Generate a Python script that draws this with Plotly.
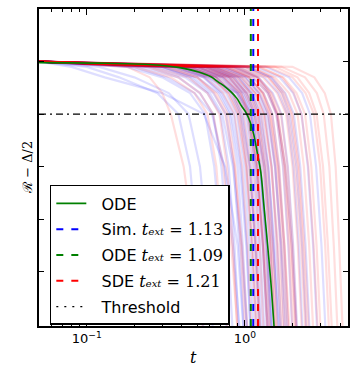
import plotly.graph_objects as go

# y levels that every trajectory passes through (first one at t = 0.05)
TRAJ_LEVELS = [0.0, -0.1, -0.3, -0.6, -1.0, -2.0, -3.5, -5.5]
T_START = 0.05

# crossing times of each level (after the start) for the simulated runs
SIM_RUNS = [
    [0.08, 0.13, 0.30, 0.55, 0.75, 0.90, 1.00],
    [0.10, 0.16, 0.28, 0.38, 0.45, 0.50, 0.56],
    [0.12, 0.20, 0.33, 0.44, 0.52, 0.58, 0.64],
    [0.18, 0.30, 0.45, 0.56, 0.64, 0.71, 0.78],
    [0.20, 0.32, 0.48, 0.62, 0.74, 0.84, 0.95],
    [0.22, 0.38, 0.52, 0.63, 0.71, 0.78, 0.85],
    [0.25, 0.42, 0.58, 0.70, 0.79, 0.86, 0.93],
    [0.28, 0.47, 0.63, 0.76, 0.85, 0.92, 1.00],
    [0.30, 0.50, 0.68, 0.80, 0.90, 0.97, 1.05],
    [0.30, 0.45, 0.60, 0.72, 0.84, 0.95, 1.05],
    [0.33, 0.55, 0.72, 0.85, 0.95, 1.03, 1.10],
    [0.35, 0.58, 0.76, 0.89, 0.99, 1.07, 1.15],
    [0.36, 0.55, 0.70, 0.82, 0.93, 1.02, 1.10],
    [0.38, 0.62, 0.80, 0.93, 1.03, 1.11, 1.20],
    [0.40, 0.65, 0.84, 0.97, 1.08, 1.16, 1.25],
    [0.40, 0.58, 0.90, 1.10, 1.25, 1.38, 1.50],
    [0.42, 0.68, 0.88, 1.01, 1.12, 1.21, 1.30],
    [0.44, 0.66, 0.82, 0.95, 1.07, 1.17, 1.27],
    [0.45, 0.72, 0.92, 1.05, 1.16, 1.25, 1.35],
    [0.47, 0.75, 0.95, 1.09, 1.20, 1.30, 1.40],
    [0.50, 0.78, 0.99, 1.13, 1.25, 1.35, 1.45],
    [0.50, 0.72, 0.90, 1.04, 1.18, 1.30, 1.42],
    [0.52, 0.82, 1.03, 1.18, 1.30, 1.40, 1.51],
    [0.55, 0.86, 1.07, 1.22, 1.35, 1.45, 1.57],
    [0.56, 0.80, 0.97, 1.10, 1.24, 1.37, 1.50],
    [0.58, 0.90, 1.12, 1.28, 1.41, 1.52, 1.64],
    [0.60, 0.85, 1.02, 1.15, 1.33, 1.50, 1.68],
    [0.62, 0.95, 1.18, 1.34, 1.48, 1.60, 1.72],
    [0.64, 0.92, 1.10, 1.24, 1.40, 1.54, 1.70],
    [0.66, 1.00, 1.24, 1.41, 1.56, 1.68, 1.80],
    [0.70, 1.06, 1.31, 1.49, 1.64, 1.77, 1.90],
    [0.72, 1.02, 1.22, 1.38, 1.55, 1.70, 1.86],
    [0.75, 1.13, 1.39, 1.58, 1.74, 1.88, 2.02],
    [0.82, 1.22, 1.50, 1.70, 1.87, 2.02, 2.17],
    [0.85, 1.20, 1.42, 1.60, 1.80, 1.98, 2.15],
    [0.90, 1.33, 1.63, 1.85, 2.03, 2.19, 2.35],
    [1.00, 1.47, 1.80, 2.04, 2.24, 2.42, 2.60],
    [1.05, 1.45, 1.72, 1.92, 2.12, 2.30, 2.48],
    [1.15, 1.66, 2.02, 2.28, 2.50, 2.70, 2.90],
    [1.35, 1.90, 2.30, 2.58, 2.82, 3.05, 3.28],
]

# same for the SDE runs
SDE_RUNS = [
    [0.18, 0.25, 0.30, 0.34, 0.41, 0.48, 0.56],
    [0.20, 0.34, 0.48, 0.58, 0.66, 0.72, 0.79],
    [0.24, 0.38, 0.52, 0.63, 0.73, 0.82, 0.92],
    [0.26, 0.44, 0.58, 0.69, 0.77, 0.84, 0.91],
    [0.30, 0.50, 0.66, 0.78, 0.87, 0.94, 1.02],
    [0.32, 0.50, 0.64, 0.75, 0.86, 0.96, 1.06],
    [0.34, 0.56, 0.73, 0.86, 0.96, 1.04, 1.12],
    [0.37, 0.61, 0.79, 0.92, 1.02, 1.10, 1.19],
    [0.40, 0.65, 0.84, 0.98, 1.09, 1.18, 1.27],
    [0.42, 0.62, 0.78, 0.90, 1.02, 1.12, 1.22],
    [0.43, 0.69, 0.89, 1.03, 1.14, 1.24, 1.33],
    [0.45, 0.66, 0.83, 0.94, 1.06, 1.16, 1.26],
    [0.46, 0.73, 0.94, 1.08, 1.20, 1.30, 1.40],
    [0.49, 0.78, 0.99, 1.14, 1.26, 1.37, 1.47],
    [0.50, 0.74, 0.92, 1.06, 1.20, 1.32, 1.45],
    [0.52, 0.82, 1.04, 1.20, 1.33, 1.44, 1.55],
    [0.55, 0.80, 0.95, 1.05, 1.18, 1.30, 1.42],
    [0.56, 0.87, 1.10, 1.26, 1.40, 1.51, 1.63],
    [0.58, 0.84, 1.02, 1.16, 1.31, 1.45, 1.58],
    [0.60, 0.93, 1.16, 1.33, 1.47, 1.59, 1.71],
    [0.62, 0.90, 1.08, 1.21, 1.36, 1.48, 1.60],
    [0.64, 0.99, 1.23, 1.40, 1.55, 1.68, 1.80],
    [0.66, 0.96, 1.16, 1.31, 1.47, 1.62, 1.77],
    [0.69, 1.05, 1.31, 1.49, 1.65, 1.78, 1.91],
    [0.74, 1.12, 1.39, 1.58, 1.75, 1.89, 2.03],
    [0.75, 1.06, 1.28, 1.44, 1.62, 1.78, 1.95],
    [0.78, 1.08, 1.30, 1.45, 1.60, 1.73, 1.86],
    [0.80, 1.20, 1.48, 1.69, 1.86, 2.01, 2.16],
    [0.84, 1.18, 1.42, 1.60, 1.80, 1.97, 2.14],
    [0.87, 1.30, 1.60, 1.82, 2.00, 2.16, 2.32],
    [0.90, 1.22, 1.45, 1.62, 1.79, 1.94, 2.10],
    [0.95, 1.41, 1.73, 1.96, 2.16, 2.33, 2.50],
    [1.00, 1.40, 1.68, 1.88, 2.08, 2.26, 2.45],
    [1.05, 1.55, 1.90, 2.15, 2.36, 2.55, 2.74],
    [1.10, 1.50, 1.78, 2.00, 2.20, 2.38, 2.58],
    [1.20, 1.75, 2.12, 2.40, 2.63, 2.84, 3.05],
    [1.25, 1.72, 2.04, 2.28, 2.52, 2.72, 2.93],
    [1.40, 2.00, 2.42, 2.73, 2.99, 3.22, 3.45],
    [1.55, 2.15, 2.55, 2.84, 3.12, 3.35, 3.60],
    [1.70, 2.40, 2.85, 3.15, 3.42, 3.65, 3.90],
    [2.00, 2.75, 3.20, 3.50, 3.75, 3.95, 4.20],
]

# deterministic ODE solution
ODE_T = [0.05, 0.12, 0.26, 0.38, 0.51, 0.61, 0.68, 0.75, 0.82, 0.89, 0.95,
         1.02, 1.08, 1.14, 1.20, 1.26, 1.32, 1.39, 1.46, 1.55]
ODE_Y = [-0.02, -0.03, -0.06, -0.11, -0.20, -0.29, -0.39, -0.48, -0.58, -0.70,
         -0.84, -0.98, -1.15, -1.40, -1.75, -2.10, -2.75, -3.47, -4.20, -5.30]

T_EXT_SIM = 1.13
T_EXT_ODE = 1.09
T_EXT_SDE = 1.21
THRESHOLD = -1.0

X_TICKS = [0.1, 1]
X_TICKTEXT = ["10<sup>\u22121</sup>", "10<sup>0</sup>"]
X_MINOR = [0.06, 0.07, 0.08, 0.09, 0.2, 0.3, 0.4, 0.5, 0.6, 0.7, 0.8, 0.9, 2, 3, 4]
Y_TICKS = [-4, -3, -2, -1, 0]

MATH = "font-family:'DejaVu Serif'"
PAD = "\u00a0\u00a0"


def ext_label(name, val):
    # unicode subscripts keep the legend rows evenly spaced
    return (f"{PAD}{name} <span style=\"{MATH}\"><i>t\u2091\u2093\u209c</i>"
            f" = {val:.2f}</span>")


fig = go.Figure()

# stochastic trajectories, one trace each so overlaps darken
for runs, col in [(SIM_RUNS, "rgba(0,0,255,0.13)"), (SDE_RUNS, "rgba(255,0,0,0.13)")]:
    for run in runs:
        fig.add_trace(go.Scatter(
            x=[T_START] + run, y=TRAJ_LEVELS, mode="lines",
            line=dict(color=col, width=2.2), showlegend=False, hoverinfo="skip"))

fig.add_trace(go.Scatter(x=ODE_T, y=ODE_Y, mode="lines", name=PAD + "ODE",
                         legendgroup="ode",
                         line=dict(color="green", width=1.6, shape="spline")))

# vertical extinction times and threshold
for val, col, name in [(T_EXT_SIM, "blue", "Sim."), (T_EXT_ODE, "green", "ODE"),
                       (T_EXT_SDE, "red", "SDE")]:
    fig.add_vline(x=val, line=dict(color=col, width=2, dash="7px,8px"))
    fig.add_trace(go.Scatter(x=[None], y=[None], mode="lines", name=ext_label(name, val),
                             legendgroup=name + col,
                             line=dict(color=col, width=2, dash="7px,8px")))
fig.add_hline(y=THRESHOLD, line=dict(color="black", width=1.3, dash="7px,4px,2px,4px"))
fig.add_trace(go.Scatter(x=[None], y=[None], mode="lines", name=PAD + "Threshold",
                         legendgroup="thr",
                         line=dict(color="black", width=1.3, dash="2px,6px")))

fig.add_annotation(text="<i>t</i>", xref="paper", yref="paper", x=0.5, y=-0.1,
                   yanchor="middle", showarrow=False,
                   font=dict(family="DejaVu Serif", size=16))
fig.add_annotation(text="\u211b \u2212 \u0394/2", xref="paper", yref="paper",
                   x=-0.068, y=0.5, textangle=-90, showarrow=False,
                   font=dict(family="DejaVu Serif", size=13))

fig.update_layout(
    width=357, height=376,
    margin=dict(l=39, r=9, t=9, b=50, autoexpand=False),
    plot_bgcolor="white", paper_bgcolor="white",
    font=dict(family="DejaVu Sans", color="black", size=13),
    legend=dict(x=0.035, y=0.445, xanchor="left", yanchor="top",
                bgcolor="white", bordercolor="black", borderwidth=1.5,
                tracegroupgap=2, font=dict(size=16)),
    xaxis=dict(type="log", range=[-1.302, 0.652], automargin=False,
               tickvals=X_TICKS, ticktext=X_TICKTEXT,
               ticks="inside", ticklen=6, tickcolor="black",
               minor=dict(tickvals=X_MINOR, ticks="inside", ticklen=3, tickcolor="black"),
               showline=True, linecolor="black", linewidth=1.5, mirror="allticks",
               showgrid=False, zeroline=False),
    yaxis=dict(range=[-5.03, 1.0], tickvals=Y_TICKS, showticklabels=False,
               automargin=False,
               ticks="inside", ticklen=5, tickcolor="black",
               showline=True, linecolor="black", linewidth=1.5, mirror="allticks",
               showgrid=False, zeroline=False),
)

# drop the default 8px page margin so the figure sits at the window corner
fig.write_html("out.html", config={"displayModeBar": False},
               post_script="document.body.style.margin='0';")
